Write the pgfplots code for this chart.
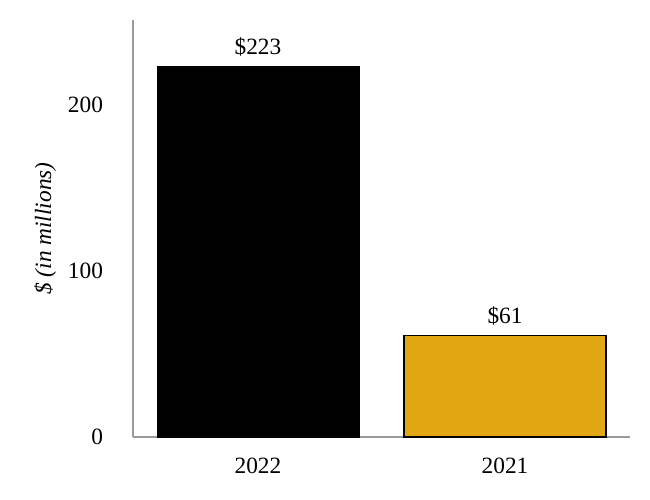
\documentclass[border=0pt]{standalone}
\usepackage{pgfplots}
\pgfplotsset{compat=1.18}
\usepackage{fontspec}
\setmainfont{Liberation Serif}
\definecolor{gold}{HTML}{E3A613}
\definecolor{axgray}{HTML}{9A9A9A}
\begin{document}
\begin{tikzpicture}[x=1pt,y=1pt]
\begin{axis}[
  name=ax,
  scale only axis,
  width=372.75pt, height=312.75pt,
  xmin=-0.506, xmax=1.506,
  ymin=0, ymax=251,
  xtick={0,1}, xticklabels={2022,2021},
  ytick={0,100,200},
  major tick length=0pt,
  axis x line*=bottom, axis y line*=left,
  axis line style={axgray, line width=1.2pt},
  x axis line style={-}, y axis line style={-},
  tick label style={font=\fontsize{17.5}{20}\selectfont},
  /pgf/number format/assume math mode=true,
  yticklabel style={xshift=-19pt},
  xticklabel style={yshift=-12pt},
  ylabel={\itshape \$ (in millions)},
  ylabel style={font=\fontsize{17.5}{20}\selectfont, yshift=2pt},
  ybar, bar width=151.5pt, bar shift=0pt,
  nodes near coords,
  nodes near coords style={font=\fontsize{17.5}{20}\selectfont, anchor=south, yshift=4pt},
  point meta=explicit symbolic,
  clip=false,
]
\addplot[fill=black, draw=black] coordinates {(0,223) [\$223]};
\addplot[fill=gold, draw=black, line width=0.9pt] coordinates {(1,61) [\$61]};
\end{axis}
\path ([xshift=-99.75pt, yshift=-47.25pt]ax.south west) rectangle ([xshift=15pt, yshift=15pt]ax.north east);
\end{tikzpicture}
\end{document}
